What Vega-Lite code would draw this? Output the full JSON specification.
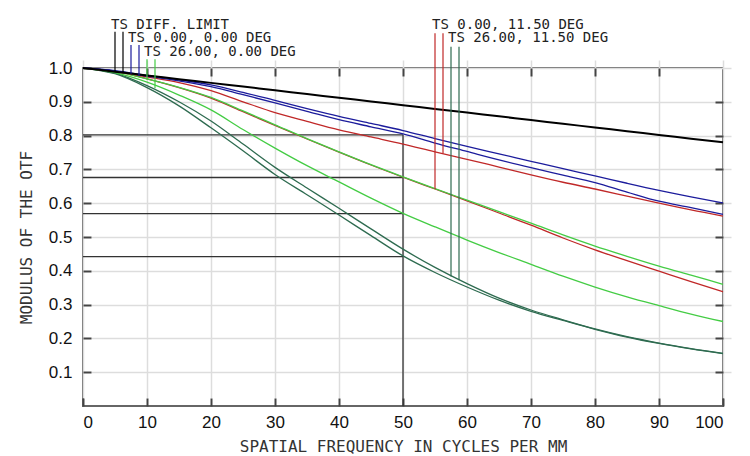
{
  "$schema": "https://vega.github.io/schema/vega-lite/v6.json",
  "width": 640,
  "height": 338,
  "autosize": {"type": "none"},
  "padding": {"left": 83, "top": 68, "right": 27, "bottom": 50},
  "background": "white",
  "config": {
    "view": {"stroke": "#666666", "strokeWidth": 2},
    "axis": {
      "domain": false,
      "gridColor": "#dddddd",
      "gridWidth": 1.5,
      "ticks": true,
      "tickColor": "#444444",
      "tickWidth": 2,
      "tickSize": 8,
      "offset": -8,
      "labelFont": "Liberation Sans",
      "labelFontSize": 17,
      "labelColor": "#111111",
      "titleFont": "DejaVu Sans Mono",
      "titleFontSize": 16,
      "titleFontWeight": "normal",
      "titleColor": "#333333"
    }
  },
  "datasets": {
    "curves": [
      {"x": 0, "DL": 1, "B1": 1, "B2": 1, "G1": 1, "G2": 1, "R1": 1, "R2": 1, "D1": 1, "D2": 1},
      {"x": 5, "DL": 0.989, "B1": 0.992, "B2": 0.991, "G1": 0.99, "G2": 0.986, "R1": 0.99, "R2": 0.99, "D1": 0.985, "D2": 0.983},
      {"x": 10, "DL": 0.978, "B1": 0.978, "B2": 0.976, "G1": 0.968, "G2": 0.958, "R1": 0.974, "R2": 0.968, "D1": 0.948, "D2": 0.942},
      {"x": 15, "DL": 0.967, "B1": 0.965, "B2": 0.962, "G1": 0.943, "G2": 0.92, "R1": 0.957, "R2": 0.942, "D1": 0.9, "D2": 0.888},
      {"x": 20, "DL": 0.956, "B1": 0.95, "B2": 0.945, "G1": 0.913, "G2": 0.876, "R1": 0.933, "R2": 0.911, "D1": 0.843, "D2": 0.823},
      {"x": 25, "DL": 0.945, "B1": 0.928, "B2": 0.921, "G1": 0.873, "G2": 0.818, "R1": 0.9, "R2": 0.871, "D1": 0.775, "D2": 0.755},
      {"x": 30, "DL": 0.934, "B1": 0.904, "B2": 0.897, "G1": 0.832, "G2": 0.763, "R1": 0.868, "R2": 0.83, "D1": 0.706, "D2": 0.685},
      {"x": 35, "DL": 0.923, "B1": 0.88, "B2": 0.872, "G1": 0.791, "G2": 0.711, "R1": 0.842, "R2": 0.79, "D1": 0.645, "D2": 0.625},
      {"x": 40, "DL": 0.912, "B1": 0.857, "B2": 0.847, "G1": 0.752, "G2": 0.663, "R1": 0.817, "R2": 0.751, "D1": 0.585, "D2": 0.565},
      {"x": 45, "DL": 0.901, "B1": 0.836, "B2": 0.826, "G1": 0.714, "G2": 0.615, "R1": 0.796, "R2": 0.713, "D1": 0.524, "D2": 0.504},
      {"x": 50, "DL": 0.89, "B1": 0.815, "B2": 0.805, "G1": 0.678, "G2": 0.57, "R1": 0.775, "R2": 0.677, "D1": 0.464, "D2": 0.444},
      {"x": 55, "DL": 0.879, "B1": 0.791, "B2": 0.778, "G1": 0.643, "G2": 0.53, "R1": 0.752, "R2": 0.642, "D1": 0.41, "D2": 0.395},
      {"x": 60, "DL": 0.868, "B1": 0.768, "B2": 0.753, "G1": 0.609, "G2": 0.491, "R1": 0.73, "R2": 0.607, "D1": 0.362, "D2": 0.352},
      {"x": 65, "DL": 0.857, "B1": 0.746, "B2": 0.728, "G1": 0.575, "G2": 0.454, "R1": 0.707, "R2": 0.571, "D1": 0.319, "D2": 0.313},
      {"x": 70, "DL": 0.846, "B1": 0.724, "B2": 0.705, "G1": 0.541, "G2": 0.419, "R1": 0.684, "R2": 0.535, "D1": 0.284, "D2": 0.28},
      {"x": 75, "DL": 0.835, "B1": 0.702, "B2": 0.683, "G1": 0.506, "G2": 0.384, "R1": 0.662, "R2": 0.497, "D1": 0.255, "D2": 0.253},
      {"x": 80, "DL": 0.824, "B1": 0.681, "B2": 0.661, "G1": 0.473, "G2": 0.352, "R1": 0.642, "R2": 0.462, "D1": 0.228, "D2": 0.227},
      {"x": 85, "DL": 0.813, "B1": 0.659, "B2": 0.633, "G1": 0.443, "G2": 0.323, "R1": 0.621, "R2": 0.43, "D1": 0.205, "D2": 0.204},
      {"x": 90, "DL": 0.802, "B1": 0.638, "B2": 0.606, "G1": 0.414, "G2": 0.297, "R1": 0.6, "R2": 0.399, "D1": 0.186, "D2": 0.185},
      {"x": 95, "DL": 0.791, "B1": 0.619, "B2": 0.587, "G1": 0.387, "G2": 0.272, "R1": 0.58, "R2": 0.368, "D1": 0.17, "D2": 0.169},
      {"x": 100, "DL": 0.78, "B1": 0.601, "B2": 0.567, "G1": 0.36, "G2": 0.25, "R1": 0.562, "R2": 0.338, "D1": 0.156, "D2": 0.155}
    ],
    "refs": [
      {"x": 0, "x2": 50, "y": 0.802, "y2": 0.802},
      {"x": 0, "x2": 50, "y": 0.676, "y2": 0.676},
      {"x": 0, "x2": 50, "y": 0.569, "y2": 0.569},
      {"x": 0, "x2": 50, "y": 0.442, "y2": 0.442},
      {"x": 50, "x2": 50, "y": 0, "y2": 0.802}
    ],
    "markers": [
      {"x": 5, "y": 1.107, "y2": 0.989, "s": "DL"},
      {"x": 6.25, "y": 1.107, "y2": 0.986, "s": "DL"},
      {"x": 7.5, "y": 1.068, "y2": 0.983, "s": "B1"},
      {"x": 8.75, "y": 1.068, "y2": 0.976, "s": "B2"},
      {"x": 10, "y": 1.026, "y2": 0.966, "s": "G1"},
      {"x": 11.25, "y": 1.026, "y2": 0.94, "s": "G2"},
      {"x": 55, "y": 1.103, "y2": 0.642, "s": "R1"},
      {"x": 56.25, "y": 1.103, "y2": 0.747, "s": "R1"},
      {"x": 57.5, "y": 1.063, "y2": 0.383, "s": "D1"},
      {"x": 58.75, "y": 1.063, "y2": 0.372, "s": "D1"}
    ],
    "labels": [
      {"x": 4.375, "y": 1.1154, "t": "TS DIFF. LIMIT"},
      {"x": 7.03, "y": 1.0769, "t": "TS 0.00, 0.00 DEG"},
      {"x": 9.53, "y": 1.0355, "t": "TS 26.00, 0.00 DEG"},
      {"x": 54.53, "y": 1.1154, "t": "TS 0.00, 11.50 DEG"},
      {"x": 57.03, "y": 1.0769, "t": "TS 26.00, 11.50 DEG"}
    ]
  },
  "layer": [
    {
      "data": {"name": "refs"},
      "mark": {"type": "rule", "color": "#333333", "strokeWidth": 1.3},
      "encoding": {
        "x": {"field": "x", "type": "quantitative", "scale": {"domain": [0, 100], "nice": false},
          "axis": {"orient": "bottom", "grid": true, "values": [0, 10, 20, 30, 40, 50, 60, 70, 80, 90, 100], "labelPadding": 8, "title": "SPATIAL FREQUENCY IN CYCLES PER MM", "titlePadding": 8}},
        "x2": {"field": "x2"},
        "y": {"field": "y", "type": "quantitative", "scale": {"domain": [0, 1], "nice": false},
          "axis": {"orient": "left", "grid": true, "values": [0.1, 0.2, 0.3, 0.4, 0.5, 0.6, 0.7, 0.8, 0.9, 1.0], "format": ".1f", "labelPadding": 11, "title": "MODULUS OF THE OTF", "titlePadding": 14}},
        "y2": {"field": "y2"}
      }
    },
    {
      "data": {"name": "curves"},
      "transform": [{"fold": ["D1", "D2", "G2", "R2", "G1", "R1", "B2", "B1"], "as": ["s", "v"]}],
      "mark": {"type": "line", "strokeWidth": 1.3, "interpolate": "monotone"},
      "encoding": {
        "x": {"field": "x", "type": "quantitative", "axis": {"orient": "top", "grid": false, "labels": false, "title": null, "values": [10, 20, 30, 40, 50, 60, 70, 80, 90]}},
        "y": {"field": "v", "type": "quantitative", "axis": {"orient": "right", "grid": false, "labels": false, "title": null, "values": [0.1, 0.2, 0.3, 0.4, 0.5, 0.6, 0.7, 0.8, 0.9]}},
        "color": {"field": "s", "type": "nominal", "legend": null,
          "scale": {"domain": ["DL", "B1", "B2", "G1", "G2", "R1", "R2", "D1", "D2"],
            "range": ["#000000", "#1c1c9c", "#1c1c9c", "#44cc44", "#44cc44", "#c02828", "#c02828", "#2e6b50", "#2e6b50"]}},
        "detail": {"field": "s"}
      }
    },
    {
      "data": {"name": "curves"},
      "mark": {"type": "line", "strokeWidth": 2, "color": "#000000", "interpolate": "monotone"},
      "encoding": {
        "x": {"field": "x", "type": "quantitative", "axis": null},
        "y": {"field": "DL", "type": "quantitative", "axis": null}
      }
    },
    {
      "data": {"name": "markers"},
      "mark": {"type": "rule", "strokeWidth": 1.2},
      "encoding": {
        "x": {"field": "x", "type": "quantitative", "axis": null},
        "y": {"field": "y", "type": "quantitative", "axis": null},
        "y2": {"field": "y2"},
        "color": {"field": "s", "type": "nominal", "legend": null}
      }
    },
    {
      "data": {"name": "labels"},
      "mark": {"type": "text", "align": "left", "baseline": "alphabetic", "font": "DejaVu Sans Mono", "fontSize": 14, "color": "#222222"},
      "encoding": {
        "x": {"field": "x", "type": "quantitative", "axis": null},
        "y": {"field": "y", "type": "quantitative", "axis": null},
        "text": {"field": "t"}
      }
    }
  ]
}
